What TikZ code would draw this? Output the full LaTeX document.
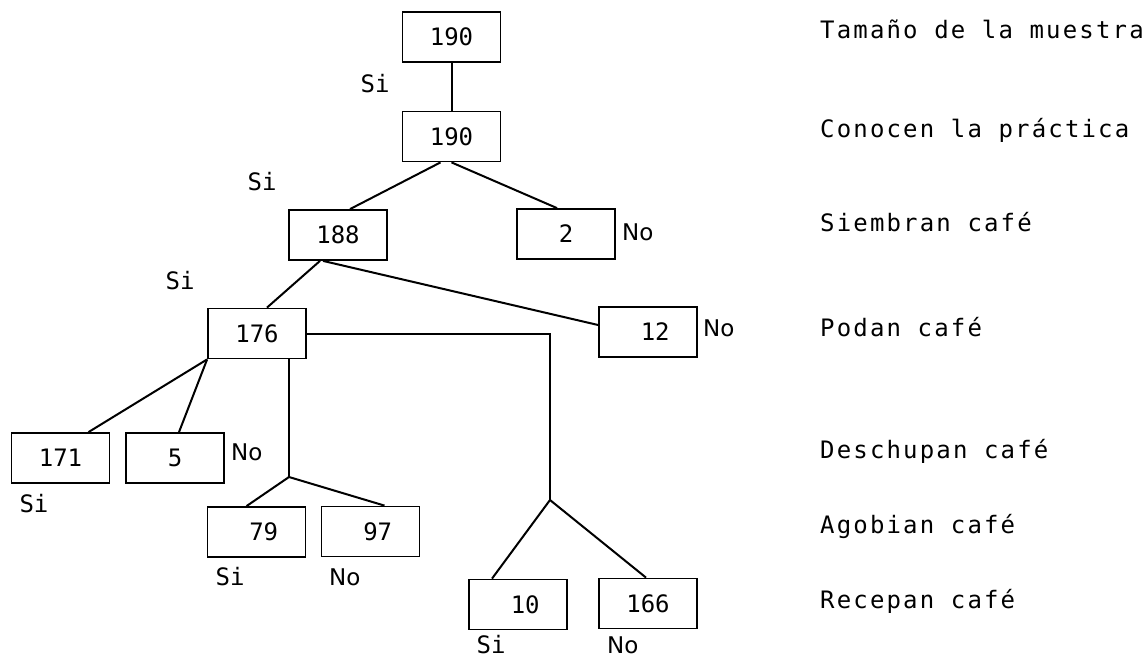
\documentclass[tikz,border=0pt]{standalone}
\usepackage{fontspec}
\setmainfont{DejaVu Sans}
\newfontfamily\dotfont{DejaVu Sans Mono}
\newfontfamily\dotfontls[LetterSpace=9]{DejaVu Sans Mono}
\usetikzlibrary{calc}
\begin{document}
\begin{tikzpicture}[x=1pt,y=-1pt,
  box/.style={draw, line width=1.8pt, minimum width=98pt, minimum height=50pt, inner sep=0pt,
    font={\dotfont\fontsize{24}{26}\selectfont}},
  conn/.style={line width=2pt},
  lbl/.style={anchor=base west, inner sep=0pt, font={\dotfontls\fontsize{24}{26}\selectfont}},
  si/.style={inner sep=0pt, font={\dotfont\fontsize{24}{26}\selectfont}},
  no/.style={anchor=west, inner sep=0pt, font={\fontsize{23}{26}\selectfont}}
]
\fill[white] (0,0) rectangle (1145,659);
\useasboundingbox (0,0) rectangle (1145,659);

% boxes
\node[box] (A) at (451.5,37) {190};
\node[box] (B) at (451.5,136.5) {190};
\node[box] (C) at (338,235) {188};
\node[box] (D) at (566,234) {2};
\node[box] (E) at (257,333.5) {176};
\node[box] (F) at (648,332) {\phantom{0}12};
\node[box] (G) at (60.5,458) {171};
\node[box] (H) at (175,458) {5};
\node[box] (I) at (256.5,532) {\phantom{0}79};
\node[box] (J) at (370.5,531.5) {\phantom{0}97};
\node[box] (K) at (518,604.5) {\phantom{0}10};
\node[box] (L) at (648,603.5) {166};

% junctions
\coordinate (j1) at (289,477);
\coordinate (j2) at (550,500);

% connectors
\draw[conn] (A.south) -- (B.north);
\draw[conn] ([xshift=-11pt]B.south) -- ([xshift=12pt]C.north);
\draw[conn] (B.south) -- ([xshift=-9pt]D.north);
\draw[conn] ([xshift=-18pt]C.south) -- ([xshift=10pt]E.north);
\draw[conn] ([xshift=-15pt]C.south) -- ([yshift=7pt]F.west);
\draw[conn] (E.south west) -- ([xshift=28pt]G.north);
\draw[conn] (E.south west) -- ([xshift=4pt]H.north);
\draw[conn] (j1 |- E.south) -- (j1);
\draw[conn] ([xshift=-10pt]I.north) -- (j1) -- ([xshift=14pt]J.north);
\draw[conn] (E.east) -- (E.east -| j2) -- (j2);
\draw[conn] ([xshift=-26pt]K.north) -- (j2) -- ([xshift=-2pt]L.north);

% Si / No labels
\node[si] (si1) at (375,84) {Si};
\node[si] (si2) at (262,182) {Si};
\node[si] (si3) at (180,281) {Si};
\node[si] (si4) at (34,504) {Si};
\node[si] (si5) at (230,577) {Si};
\node[si] (si6) at (491,645) {Si};
\node[no] (no1) at (622,232) {No};
\node[no] (no2) at (703,328) {No};
\node[no] (no3) at (231,452) {No};
\node[no] (no4) at (329,577) {No};
\node[no] (no5) at (607,645) {No};

% row captions
\node[lbl] (t1) at (820,38) {Tamaño de la muestra};
\node[lbl] (t2) at (820,137) {Conocen la práctica};
\node[lbl] (t3) at (820,231) {Siembran café};
\node[lbl] (t4) at (820,336) {Podan café};
\node[lbl] (t5) at (820,458) {Deschupan café};
\node[lbl] (t6) at (820,533) {Agobian café};
\node[lbl] (t7) at (820,608) {Recepan café};
\end{tikzpicture}
\end{document}
